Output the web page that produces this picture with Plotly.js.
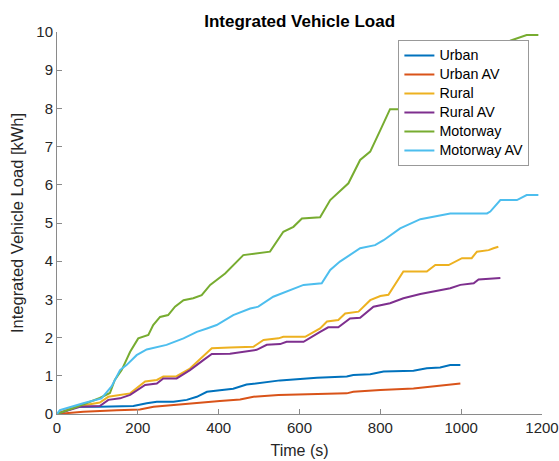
<!DOCTYPE html>
<html><head><meta charset="utf-8">
<script src="https://cdn.plot.ly/plotly-3.0.1.min.js"></script>
<style>html,body{margin:0;padding:0;background:#fff}#chart{width:559px;height:461px}</style>
</head><body><div id="chart"></div>
<script>
const seriesNames = ["Urban","Urban AV","Rural","Rural AV","Motorway","Motorway AV"];
const seriesColors = ["#0072BD","#D95319","#EDB120","#7E2F8E","#77AC30","#4DBEEE"];

const urbanT = [0,20,49,106,189,222,247,288,321,346,371,403,436,469,511,552,643,717,733,775,808,882,915,948,973,998];
const urbanV = [0,0.08,0.19,0.19,0.21,0.28,0.32,0.32,0.37,0.45,0.58,0.62,0.66,0.77,0.82,0.88,0.95,0.98,1.02,1.04,1.11,1.13,1.20,1.22,1.28,1.28];

const urbanAvT = [0,30,65,148,205,239,271,321,354,403,453,486,548,651,717,733,800,882,915,965,998];
const urbanAvV = [0,0.03,0.06,0.10,0.12,0.19,0.22,0.26,0.31,0.34,0.38,0.45,0.50,0.52,0.54,0.58,0.63,0.67,0.71,0.76,0.80];

const ruralT = [0,32,57,106,127,156,181,218,247,263,296,329,362,383,428,486,511,548,560,614,651,668,696,713,746,775,800,820,857,915,936,969,1002,1026,1039,1068,1080,1092];
const ruralV = [0,0.15,0.21,0.30,0.45,0.50,0.54,0.85,0.89,0.98,0.99,1.19,1.50,1.72,1.74,1.76,1.94,1.98,2.02,2.02,2.24,2.42,2.46,2.63,2.68,2.98,3.09,3.12,3.73,3.73,3.90,3.90,4.08,4.08,4.25,4.29,4.34,4.38];

const ruralAvT = [0,16,57,106,127,156,181,218,247,263,296,329,362,383,428,494,519,552,568,610,651,671,696,725,750,783,824,857,899,940,973,998,1031,1043,1072,1097];
const ruralAvV = [0,0.06,0.19,0.21,0.37,0.41,0.50,0.76,0.80,0.93,0.93,1.15,1.41,1.57,1.58,1.68,1.81,1.83,1.89,1.89,2.15,2.27,2.27,2.50,2.52,2.81,2.90,3.03,3.14,3.23,3.29,3.38,3.42,3.52,3.55,3.56];

const motorwayT = [0,40,106,131,143,160,181,201,226,238,255,275,292,313,337,358,379,395,416,461,527,560,585,606,651,676,721,750,775,800,824,849,900,1000,1100,1121,1162,1191];
const motorwayV = [0,0.15,0.42,0.55,0.89,1.15,1.63,1.98,2.07,2.33,2.54,2.59,2.81,2.98,3.03,3.11,3.38,3.51,3.68,4.16,4.25,4.77,4.90,5.12,5.15,5.60,6.04,6.65,6.87,7.43,7.98,7.98,8.5,9.2,9.7,9.77,9.92,9.92];

const motorwayAvT = [0,7,65,98,110,135,156,172,197,222,247,271,313,346,371,395,436,478,498,535,610,655,676,700,750,787,808,849,899,973,1064,1072,1097,1138,1162,1191];
const motorwayAvV = [0,0.10,0.28,0.38,0.41,0.72,1.15,1.28,1.54,1.69,1.76,1.81,1.98,2.15,2.24,2.33,2.59,2.76,2.81,3.07,3.38,3.42,3.77,3.99,4.34,4.42,4.55,4.86,5.10,5.25,5.25,5.30,5.60,5.60,5.73,5.73];

const xTicks = [0,200,400,600,800,1000,1200];
const yTicks = [0,1,2,3,4,5,6,7,8,9,10];

const xs = [urbanT,urbanAvT,ruralT,ruralAvT,motorwayT,motorwayAvT];
const ys = [urbanV,urbanAvV,ruralV,ruralAvV,motorwayV,motorwayAvV];

const traces = seriesNames.map((n,i)=>({
  x: xs[i], y: ys[i],
  name: '<span style="font-size:14.3px">' + n + '</span>',
  type: 'scatter', mode: 'lines',
  line: {color: seriesColors[i], width: 2}
}));

const font = "Liberation Sans, Arial, Helvetica, sans-serif";
const axisCommon = {showgrid: false, zeroline: false, showline: true, linecolor: '#8a8a8a', linewidth: 1,
  ticks: 'inside', ticklen: 5, tickcolor: '#8a8a8a', tickfont: {size: 15, color: '#262626'}};
const layout = {
  width: 559, height: 461,
  margin: {l: 57, r: 17, t: 32, b: 47},
  paper_bgcolor: '#fff', plot_bgcolor: '#fff',
  font: {family: font, color: '#262626', size: 15},
  title: {text: '<b>Integrated Vehicle Load</b>', font: {family: font, size: 17, color: '#000'},
          x: 0.536, xanchor: 'center', y: 0.955, yanchor: 'middle'},
  showlegend: true,
  legend: {x: 0.974, xanchor: 'right', y: 0.979, yanchor: 'top', bgcolor: '#fff', bordercolor: '#999', borderwidth: 1,
           font: {family: font, size: 10.8, color: '#000'}, tracegroupgap: 0, itemwidth: 30},
  xaxis: Object.assign({}, axisCommon, {range: [0, 1200], tickvals: xTicks,
          title: {text: 'Time (s)', font: {size: 16, color: '#262626'}, standoff: 9}}),
  yaxis: Object.assign({}, axisCommon, {range: [0, 10], tickvals: yTicks,
          title: {text: 'Integrated Vehicle Load [kWh]', font: {size: 16.5, color: '#262626'}, standoff: 8}})
};
Plotly.newPlot('chart', traces, layout, {displayModeBar: false, staticPlot: true});
</script></body></html>
